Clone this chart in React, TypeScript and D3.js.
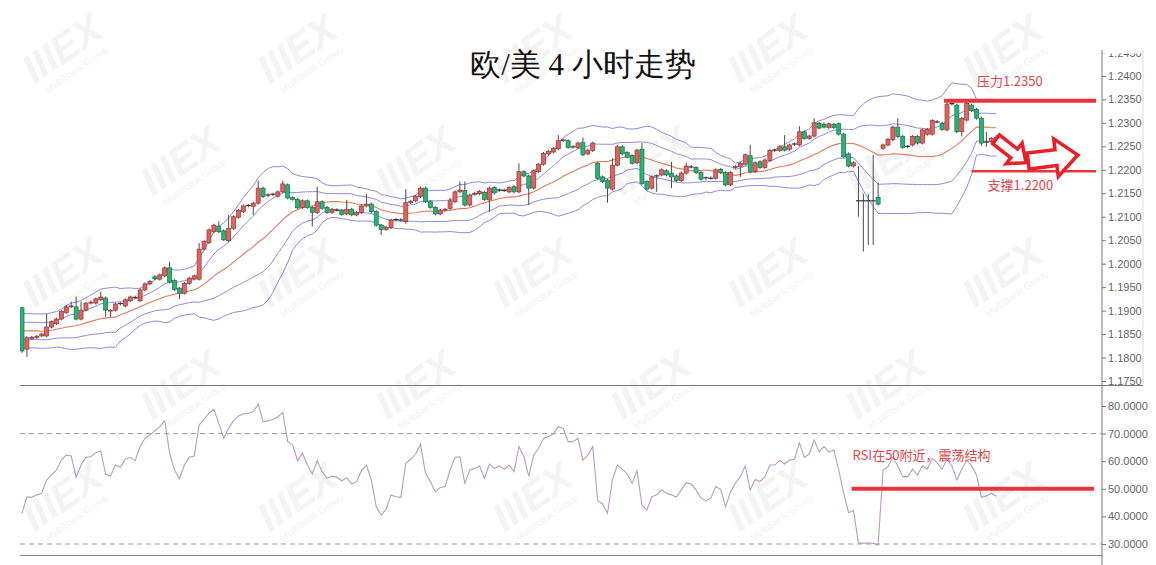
import React, { useEffect, useRef } from 'react';
import * as d3 from 'd3';

// EUR/USD 4h bars: [open, high, low, close]
const candles: [number, number, number, number][] = [
  [1.1906, 1.1908, 1.1810, 1.1814], [1.1818, 1.1845, 1.1801, 1.1842], [1.1841, 1.1846, 1.1838, 1.1843],
  [1.1843, 1.1848, 1.1840, 1.1845], [1.1846, 1.1852, 1.1844, 1.1850], [1.1846, 1.1893, 1.1843, 1.1865],
  [1.1865, 1.1879, 1.1862, 1.1876], [1.1872, 1.1885, 1.1869, 1.1882], [1.1882, 1.1901, 1.1879, 1.1898],
  [1.1896, 1.1912, 1.1893, 1.1908], [1.1908, 1.1919, 1.1905, 1.1910], [1.1908, 1.1930, 1.1879, 1.1882],
  [1.1882, 1.1919, 1.1879, 1.1901], [1.1901, 1.1919, 1.1898, 1.1916], [1.1916, 1.1921, 1.1913, 1.1918],
  [1.1916, 1.1928, 1.1913, 1.1925], [1.1923, 1.1940, 1.1921, 1.1929], [1.1927, 1.1930, 1.1887, 1.1901],
  [1.1899, 1.1903, 1.1887, 1.1901], [1.1901, 1.1917, 1.1898, 1.1914], [1.1914, 1.1918, 1.1911, 1.1915],
  [1.1910, 1.1926, 1.1907, 1.1923], [1.1921, 1.1932, 1.1918, 1.1929], [1.1929, 1.1932, 1.1925, 1.1928],
  [1.1921, 1.1947, 1.1918, 1.1944], [1.1944, 1.1960, 1.1941, 1.1957], [1.1957, 1.1965, 1.1954, 1.1962],
  [1.1972, 1.1975, 1.1965, 1.1968], [1.1967, 1.1979, 1.1964, 1.1976], [1.1974, 1.1994, 1.1971, 1.1991],
  [1.1991, 1.2004, 1.1958, 1.1961], [1.1964, 1.1967, 1.1942, 1.1945], [1.1948, 1.1950, 1.1924, 1.1937],
  [1.1937, 1.1961, 1.1934, 1.1958], [1.1958, 1.1972, 1.1955, 1.1969], [1.1967, 1.1977, 1.1964, 1.1974],
  [1.1967, 1.2044, 1.1964, 1.2031], [1.2031, 1.2050, 1.2028, 1.2047], [1.2045, 1.2075, 1.2042, 1.2072],
  [1.2068, 1.2085, 1.2065, 1.2082], [1.2080, 1.2090, 1.2065, 1.2068], [1.2070, 1.2073, 1.2048, 1.2051],
  [1.2049, 1.2104, 1.2046, 1.2075], [1.2075, 1.2103, 1.2072, 1.2100], [1.2099, 1.2117, 1.2096, 1.2114],
  [1.2111, 1.2126, 1.2108, 1.2123], [1.2123, 1.2127, 1.2120, 1.2124], [1.2122, 1.2132, 1.2104, 1.2129],
  [1.2129, 1.2177, 1.2126, 1.2161], [1.2161, 1.2164, 1.2140, 1.2143], [1.2145, 1.2150, 1.2142, 1.2147],
  [1.2147, 1.2151, 1.2144, 1.2148], [1.2144, 1.2156, 1.2141, 1.2153], [1.2153, 1.2177, 1.2150, 1.2170],
  [1.2168, 1.2171, 1.2137, 1.2140], [1.2141, 1.2144, 1.2134, 1.2137], [1.2137, 1.2140, 1.2116, 1.2119],
  [1.2120, 1.2137, 1.2117, 1.2134], [1.2134, 1.2137, 1.2117, 1.2120], [1.2120, 1.2123, 1.2079, 1.2109],
  [1.2109, 1.2164, 1.2106, 1.2132], [1.2132, 1.2135, 1.2115, 1.2118], [1.2120, 1.2123, 1.2106, 1.2109],
  [1.2109, 1.2119, 1.2106, 1.2116], [1.2115, 1.2118, 1.2111, 1.2114], [1.2114, 1.2117, 1.2102, 1.2105],
  [1.2106, 1.2136, 1.2103, 1.2116], [1.2116, 1.2119, 1.2101, 1.2104], [1.2104, 1.2112, 1.2101, 1.2109],
  [1.2109, 1.2126, 1.2106, 1.2123], [1.2123, 1.2149, 1.2120, 1.2127], [1.2127, 1.2130, 1.2108, 1.2111],
  [1.2111, 1.2114, 1.2079, 1.2082], [1.2082, 1.2085, 1.2061, 1.2073], [1.2073, 1.2080, 1.2070, 1.2077],
  [1.2077, 1.2096, 1.2074, 1.2093], [1.2093, 1.2097, 1.2090, 1.2094], [1.2094, 1.2097, 1.2090, 1.2093],
  [1.2090, 1.2159, 1.2085, 1.2130], [1.2130, 1.2136, 1.2127, 1.2133], [1.2134, 1.2147, 1.2131, 1.2144],
  [1.2143, 1.2164, 1.2140, 1.2161], [1.2161, 1.2164, 1.2129, 1.2132], [1.2132, 1.2135, 1.2117, 1.2120],
  [1.2120, 1.2123, 1.2103, 1.2106], [1.2106, 1.2117, 1.2103, 1.2114], [1.2114, 1.2119, 1.2111, 1.2116],
  [1.2118, 1.2140, 1.2115, 1.2134], [1.2132, 1.2156, 1.2129, 1.2153], [1.2153, 1.2175, 1.2150, 1.2157],
  [1.2156, 1.2175, 1.2122, 1.2125], [1.2125, 1.2149, 1.2122, 1.2146], [1.2148, 1.2153, 1.2145, 1.2150],
  [1.2149, 1.2157, 1.2146, 1.2154], [1.2152, 1.2155, 1.2134, 1.2137], [1.2136, 1.2164, 1.2110, 1.2161],
  [1.2162, 1.2165, 1.2148, 1.2151], [1.2156, 1.2160, 1.2153, 1.2157], [1.2157, 1.2160, 1.2153, 1.2156],
  [1.2153, 1.2165, 1.2150, 1.2162], [1.2164, 1.2167, 1.2150, 1.2153], [1.2153, 1.2214, 1.2150, 1.2196],
  [1.2196, 1.2199, 1.2184, 1.2187], [1.2187, 1.2190, 1.2125, 1.2161], [1.2161, 1.2201, 1.2158, 1.2198],
  [1.2196, 1.2215, 1.2193, 1.2212], [1.2212, 1.2238, 1.2209, 1.2235], [1.2234, 1.2242, 1.2231, 1.2239],
  [1.2238, 1.2249, 1.2235, 1.2246], [1.2245, 1.2274, 1.2242, 1.2262], [1.2262, 1.2267, 1.2259, 1.2264],
  [1.2262, 1.2265, 1.2245, 1.2248], [1.2248, 1.2252, 1.2245, 1.2249], [1.2248, 1.2260, 1.2245, 1.2257],
  [1.2258, 1.2269, 1.2229, 1.2232], [1.2234, 1.2245, 1.2231, 1.2242], [1.2241, 1.2260, 1.2238, 1.2257],
  [1.2214, 1.2217, 1.2179, 1.2182], [1.2185, 1.2188, 1.2172, 1.2175], [1.2178, 1.2181, 1.2130, 1.2161],
  [1.2159, 1.2225, 1.2156, 1.2210], [1.2210, 1.2253, 1.2207, 1.2249], [1.2249, 1.2252, 1.2231, 1.2234],
  [1.2237, 1.2240, 1.2224, 1.2227], [1.2230, 1.2233, 1.2211, 1.2214], [1.2215, 1.2245, 1.2212, 1.2242],
  [1.2244, 1.2257, 1.2168, 1.2171], [1.2175, 1.2178, 1.2156, 1.2159], [1.2161, 1.2188, 1.2158, 1.2185],
  [1.2186, 1.2190, 1.2153, 1.2187], [1.2189, 1.2203, 1.2186, 1.2200], [1.2198, 1.2201, 1.2186, 1.2189],
  [1.2193, 1.2217, 1.2161, 1.2185], [1.2187, 1.2190, 1.2174, 1.2177], [1.2177, 1.2196, 1.2174, 1.2193],
  [1.2193, 1.2215, 1.2190, 1.2208], [1.2207, 1.2210, 1.2203, 1.2206], [1.2205, 1.2208, 1.2191, 1.2194],
  [1.2194, 1.2197, 1.2177, 1.2180], [1.2182, 1.2186, 1.2179, 1.2183], [1.2183, 1.2186, 1.2179, 1.2182],
  [1.2182, 1.2203, 1.2179, 1.2200], [1.2201, 1.2204, 1.2191, 1.2194], [1.2194, 1.2197, 1.2165, 1.2168],
  [1.2168, 1.2197, 1.2165, 1.2194], [1.2205, 1.2210, 1.2202, 1.2207], [1.2207, 1.2217, 1.2185, 1.2214],
  [1.2212, 1.2235, 1.2209, 1.2232], [1.2230, 1.2253, 1.2193, 1.2196], [1.2196, 1.2218, 1.2193, 1.2215],
  [1.2217, 1.2220, 1.2202, 1.2205], [1.2205, 1.2224, 1.2202, 1.2221], [1.2220, 1.2244, 1.2217, 1.2241],
  [1.2241, 1.2245, 1.2238, 1.2242], [1.2241, 1.2252, 1.2238, 1.2249], [1.2249, 1.2274, 1.2239, 1.2242],
  [1.2244, 1.2256, 1.2241, 1.2253], [1.2254, 1.2258, 1.2251, 1.2255], [1.2253, 1.2293, 1.2250, 1.2281],
  [1.2281, 1.2284, 1.2264, 1.2267], [1.2267, 1.2275, 1.2264, 1.2272], [1.2272, 1.2310, 1.2269, 1.2300],
  [1.2299, 1.2302, 1.2286, 1.2289], [1.2297, 1.2301, 1.2288, 1.2291], [1.2290, 1.2301, 1.2286, 1.2298],
  [1.2297, 1.2300, 1.2287, 1.2290], [1.2298, 1.2301, 1.2273, 1.2276], [1.2276, 1.2279, 1.2225, 1.2228],
  [1.2234, 1.2237, 1.2205, 1.2208], [1.2208, 1.2218, 1.2205, 1.2215], [1.2134, 1.2208, 1.2100, 1.2134],
  [1.2134, 1.2149, 1.2026, 1.2134], [1.2134, 1.2149, 1.2040, 1.2134], [1.2134, 1.2232, 1.2040, 1.2134],
  [1.2141, 1.2173, 1.2124, 1.2127], [1.2246, 1.2256, 1.2243, 1.2253], [1.2253, 1.2268, 1.2250, 1.2265],
  [1.2264, 1.2294, 1.2261, 1.2291], [1.2291, 1.2310, 1.2268, 1.2271], [1.2271, 1.2274, 1.2245, 1.2248],
  [1.2249, 1.2253, 1.2246, 1.2250], [1.2253, 1.2274, 1.2250, 1.2271], [1.2271, 1.2274, 1.2254, 1.2257],
  [1.2257, 1.2288, 1.2254, 1.2285], [1.2276, 1.2289, 1.2273, 1.2286], [1.2276, 1.2308, 1.2273, 1.2305],
  [1.2303, 1.2306, 1.2299, 1.2302], [1.2299, 1.2302, 1.2283, 1.2286], [1.2285, 1.2343, 1.2282, 1.2340],
  [1.2340, 1.2344, 1.2337, 1.2341], [1.2338, 1.2341, 1.2278, 1.2281], [1.2281, 1.2313, 1.2271, 1.2310],
  [1.2306, 1.2345, 1.2303, 1.2342], [1.2338, 1.2341, 1.2323, 1.2326], [1.2329, 1.2332, 1.2307, 1.2310],
  [1.2310, 1.2313, 1.2251, 1.2257], [1.2260, 1.2281, 1.2249, 1.2259], [1.2260, 1.2270, 1.2257, 1.2267],
  [1.2267, 1.2274, 1.2261, 1.2268],
];

// closes of the 19 bars before the first visible one, only used to warm up the bands
const priorCloses = [
  1.1845, 1.1838, 1.1850, 1.1862, 1.1855, 1.1848, 1.1840, 1.1852, 1.1865, 1.1870,
  1.1858, 1.1850, 1.1845, 1.1855, 1.1868, 1.1875, 1.1862, 1.1880, 1.1906,
];

// RSI per bar
const rsi = [
  41.1, 47.1, 46.9, 47.8, 48.4, 53.2, 55.0, 56.8, 60.4, 62.2, 61.9, 54.2, 58.6, 61.4, 61.6, 63.1, 63.8, 55.3, 54.6, 58.6,
  57.8, 60.7, 61.4, 60.2, 65.3, 68.3, 69.5, 71.0, 72.5, 74.7, 62.9, 56.8, 53.6, 58.6, 61.4, 61.9, 73.1, 75.2, 77.4, 78.8,
  73.7, 68.3, 71.9, 74.7, 76.4, 77.1, 77.4, 77.9, 80.7, 74.3, 74.6, 75.2, 76.1, 77.6, 67.1, 65.9, 60.2, 62.9, 58.6, 55.4,
  60.2, 56.2, 53.8, 54.6, 54.2, 52.9, 54.0, 51.7, 52.6, 56.6, 58.6, 53.2, 43.5, 40.5, 42.6, 47.8, 47.1, 46.9, 59.2, 60.7,
  62.6, 66.2, 55.6, 52.6, 48.9, 50.5, 50.8, 56.8, 61.4, 61.6, 52.0, 56.8, 57.4, 58.3, 53.8, 59.0, 57.4, 58.3, 57.1, 58.6,
  56.2, 65.3, 61.6, 54.6, 62.2, 64.7, 68.3, 68.9, 69.9, 72.5, 71.9, 67.1, 67.1, 68.3, 60.4, 62.2, 65.3, 45.7, 44.5, 41.1,
  53.2, 58.6, 57.1, 55.4, 52.0, 56.6, 44.1, 42.3, 47.1, 47.8, 49.6, 48.4, 47.8, 46.9, 49.6, 52.2, 51.7, 49.6, 46.6, 45.7,
  46.6, 50.8, 49.8, 43.5, 48.9, 52.0, 54.4, 58.3, 49.6, 53.4, 52.6, 54.4, 58.6, 58.6, 60.2, 59.0, 60.4, 60.7, 66.7, 61.4,
  62.6, 67.7, 63.4, 65.3, 63.4, 64.1, 56.8, 48.4, 41.3, 42.1, 30.3, 30.3, 30.3, 30.3, 29.6, 56.8, 58.0, 61.4, 58.3, 54.4,
  54.4, 57.1, 55.0, 58.3, 57.1, 61.0, 59.5, 57.1, 60.7, 58.3, 53.2, 57.1, 60.4, 58.3, 55.0, 46.9, 47.4, 48.4, 47.4,
];

const priceTicks = [
  1.175, 1.18, 1.185, 1.19, 1.195, 1.2, 1.205, 1.21, 1.215, 1.22, 1.225, 1.23, 1.235, 1.24, 1.245,
];
const rsiTicks = [30, 40, 50, 60, 70, 80];
const rsiGuides = [70, 30];

const bandPeriod = 20;

// hand drawn notes on the chart (level + bar index span)
const resistance = { level: 1.2347, from: 187.4, to: 218.3, label: '压力1.2350' };
const support = { level: 1.2197, from: 193, to: 218.3, label: '支撑1.2200' };
const rsiNote = { level: 50, from: 168.6, to: 217.9, label: 'RSI在50附近，震荡结构' };

const RED = '#e8343b';
const NOTE_TEXT = '#e0474c';
const CJK = '"Noto Sans CJK SC", "Noto Sans", sans-serif';
const AXIS_FONT = '"Liberation Sans", Arial, sans-serif';

const App: React.FC = () => {
  const ref = useRef<SVGSVGElement>(null);

  useEffect(() => {
    document.body.style.margin = '0';
    if (!ref.current) return;
    const svg = d3.select(ref.current);
    svg.selectAll('*').remove();

    const x = d3.scaleLinear().domain([0, candles.length - 1]).range([22, 996.2]);
    const y = d3.scaleLinear().domain([1.175, 1.245]).range([381, 52.5]);
    const yr = d3.scaleLinear().domain([30, 80]).range([544, 406]);

    const defs = svg.append('defs');
    defs.append('clipPath').attr('id', 'main-clip')
      .append('rect').attr('x', 20).attr('y', 48).attr('width', 1082).attr('height', 337);
    defs.append('clipPath').attr('id', 'rsi-clip')
      .append('rect').attr('x', 20).attr('y', 386).attr('width', 1082).attr('height', 170);
    // in the axis group's own coordinates (it is translated to x = 1102)
    defs.append('clipPath').attr('id', 'axis-clip')
      .append('rect').attr('x', -4).attr('y', 53.5).attr('width', 60).attr('height', 512);

    // watermark
    const wm = svg.append('g').attr('fill', '#f4f4f4');
    for (let r = 0; r < 5; r++) {
      for (let k = 0; k < 5; k++) {
        const cx = 70 + 235 * k + (r % 2) * 118;
        const cy = 60 + r * 112;
        if (cx > 1080) continue;
        const g = wm.append('g').attr('transform', `translate(${cx},${cy}) rotate(-35)`);
        g.append('text').attr('text-anchor', 'middle').attr('font-family', AXIS_FONT)
          .attr('font-weight', 'bold').attr('font-style', 'italic').attr('font-size', 40).text('IIIEX');
        g.append('text').attr('text-anchor', 'middle').attr('y', 15).attr('font-family', AXIS_FONT)
          .attr('font-size', 10).text('MultiBank Group');
      }
    }

    // title
    svg.append('text')
      .attr('x', 583).attr('y', 75)
      .attr('text-anchor', 'middle')
      .attr('font-family', 'serif')
      .attr('font-size', 31)
      .attr('font-weight', 300)
      .attr('fill', '#111')
      .text('欧/美 4 小时走势');

    // frame lines
    svg.append('line').attr('x1', 1102).attr('x2', 1102).attr('y1', 50).attr('y2', 565).attr('stroke', '#777');
    svg.append('line').attr('x1', 1143).attr('x2', 1143).attr('y1', 50).attr('y2', 385).attr('stroke', '#ddd');
    svg.append('line').attr('x1', 20).attr('x2', 1143).attr('y1', 385.5).attr('y2', 385.5).attr('stroke', '#777');
    svg.append('line').attr('x1', 20).attr('x2', 1102).attr('y1', 555.5).attr('y2', 555.5).attr('stroke', '#888');

    // bollinger bands (20, 1σ and 2σ)
    const allCloses = priorCloses.concat(candles.map(c => c[3]));
    const mid: number[] = [];
    const dev: number[] = [];
    candles.forEach((_, i) => {
      const win = allCloses.slice(i + priorCloses.length - bandPeriod + 1, i + priorCloses.length + 1);
      const m = d3.mean(win) as number;
      mid.push(m);
      dev.push(Math.sqrt(d3.mean(win, v => (v - m) ** 2) as number));
    });

    const main = svg.append('g').attr('clip-path', 'url(#main-clip)');
    const line = d3.line<number>().x((_, i) => x(i)).y(d => y(d));
    [2, 1, -1, -2].forEach(k => {
      main.append('path')
        .attr('d', line(mid.map((m, i) => m + k * dev[i])))
        .attr('fill', 'none').attr('stroke', '#8c8cdc').attr('stroke-width', 1);
    });
    main.append('path').attr('d', line(mid))
      .attr('fill', 'none').attr('stroke', '#e57a5c').attr('stroke-width', 1.1);

    // candles (index kept on the datum, filter() renumbers)
    const bars = candles.map(([o, h, l, c], i) => ({ i, o, h, l, c }));
    const bar = main.selectAll('g.bar').data(bars).enter().append('g').attr('class', 'bar');
    bar.append('line')
      .attr('x1', d => x(d.i)).attr('x2', d => x(d.i))
      .attr('y1', d => y(d.h)).attr('y2', d => y(d.l))
      .attr('stroke', '#4a4a4a').attr('stroke-width', 1);
    bar.filter(d => Math.abs(d.o - d.c) >= 0.00012)
      .append('rect')
      .attr('x', d => x(d.i) - 2)
      .attr('width', 4)
      .attr('y', d => y(Math.max(d.o, d.c)))
      .attr('height', d => Math.abs(y(d.o) - y(d.c)))
      .attr('fill', d => (d.c > d.o ? '#e5615c' : '#26b574'))
      .attr('stroke', d => (d.c > d.o ? '#8a3b38' : '#246b4a'))
      .attr('stroke-width', 0.7);
    bar.filter(d => Math.abs(d.o - d.c) < 0.00012)
      .append('line')
      .attr('x1', d => x(d.i) - 2.5).attr('x2', d => x(d.i) + 2.5)
      .attr('y1', d => y(d.c)).attr('y2', d => y(d.c))
      .attr('stroke', '#333').attr('stroke-width', 1.2);

    // price axis
    const ax = svg.append('g')
      .attr('transform', 'translate(1102,0)')
      .attr('clip-path', 'url(#axis-clip)')
      .call(d3.axisRight(y).tickValues(priceTicks).tickFormat(d3.format('.4f')).tickSize(4).tickPadding(2));
    ax.select('.domain').remove();
    ax.selectAll('line').attr('stroke', '#777');
    ax.selectAll('text').attr('fill', '#666').attr('font-size', 11).attr('font-family', AXIS_FONT);

    // RSI panel
    const rsiG = svg.append('g');
    rsiGuides.forEach(v => {
      rsiG.append('line')
        .attr('x1', 20).attr('x2', 1102).attr('y1', yr(v)).attr('y2', yr(v))
        .attr('stroke', '#9a9a9a').attr('stroke-dasharray', '5,4');
    });
    rsiG.append('path')
      .attr('clip-path', 'url(#rsi-clip)')
      .attr('d', d3.line<number>().x((_, i) => x(i)).y(d => yr(d))(rsi))
      .attr('fill', 'none').attr('stroke', '#b99bc6').attr('stroke-width', 1.1);

    const rax = svg.append('g')
      .attr('transform', 'translate(1102,0)')
      .call(d3.axisRight(yr).tickValues(rsiTicks).tickFormat(d3.format('.4f')).tickSize(4).tickPadding(2));
    rax.select('.domain').remove();
    rax.selectAll('line').attr('stroke', '#777');
    rax.selectAll('text').attr('fill', '#666').attr('font-size', 11).attr('font-family', AXIS_FONT);

    // notes: resistance / support / RSI
    const notes = svg.append('g');
    notes.append('line')
      .attr('x1', x(resistance.from)).attr('x2', x(resistance.to))
      .attr('y1', y(resistance.level)).attr('y2', y(resistance.level))
      .attr('stroke', RED).attr('stroke-width', 4);
    notes.append('text')
      .attr('x', x(resistance.from) + 33).attr('y', y(resistance.level) - 15)
      .attr('font-family', CJK).attr('font-size', 13).attr('fill', NOTE_TEXT)
      .text(resistance.label);

    notes.append('line')
      .attr('x1', x(support.from)).attr('x2', x(support.to))
      .attr('y1', y(support.level)).attr('y2', y(support.level))
      .attr('stroke', RED).attr('stroke-width', 2.5);
    notes.append('text')
      .attr('x', x(support.from) + 16).attr('y', y(support.level) + 19)
      .attr('font-family', CJK).attr('font-size', 13).attr('fill', NOTE_TEXT)
      .text(support.label);

    notes.append('line')
      .attr('x1', x(rsiNote.from)).attr('x2', x(rsiNote.to))
      .attr('y1', yr(rsiNote.level)).attr('y2', yr(rsiNote.level))
      .attr('stroke', RED).attr('stroke-width', 4);
    notes.append('text')
      .attr('x', x(rsiNote.from) + 1).attr('y', yr(rsiNote.level) - 29)
      .attr('font-family', CJK).attr('font-size', 13).attr('fill', NOTE_TEXT)
      .text(rsiNote.label);

    // hollow block arrows
    const blockArrow = (L: number, h: number, H: number, hl: number) => {
      const p = d3.path();
      p.moveTo(-L / 2, -h);
      p.lineTo(L / 2 - hl, -h);
      p.lineTo(L / 2 - hl, -H);
      p.lineTo(L / 2, 0);
      p.lineTo(L / 2 - hl, H);
      p.lineTo(L / 2 - hl, h);
      p.lineTo(-L / 2, h);
      p.closePath();
      return p.toString();
    };
    notes.append('path')
      .attr('d', blockArrow(38, 5.5, 13, 15))
      .attr('transform', 'translate(1011,151) rotate(38)')
      .attr('fill', '#fff').attr('stroke', '#ea1f27').attr('stroke-width', 3.5)
      .attr('stroke-linejoin', 'miter');
    notes.append('path')
      .attr('d', blockArrow(50, 8, 19, 22))
      .attr('transform', 'translate(1053,158) rotate(-7)')
      .attr('fill', '#fff').attr('stroke', '#ea1f27').attr('stroke-width', 3.5)
      .attr('stroke-linejoin', 'miter');
  }, []);

  return <svg ref={ref} width={1156} height={565} style={{ display: 'block', background: '#fff' }} />;
};

export default App;
